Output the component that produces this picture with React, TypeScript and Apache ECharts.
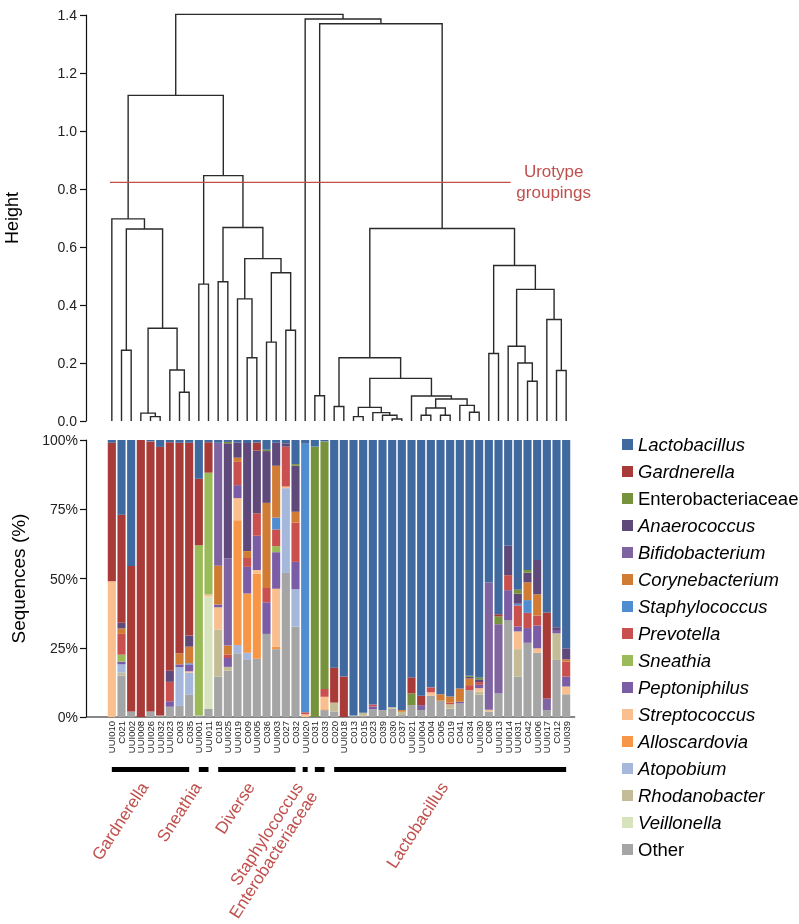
import React, { useEffect, useRef } from 'react';
import * as echarts from 'echarts';

// ---------------- DATA ----------------
const samples = ['UUI010','C021','UUI002','UUI008','UUI026','UUI032','UUI023','C003','C035','UUI001','UUI011','C018','UUI025','UUI019','C009','UUI005','C036','UUI003','C027','C032','UUI020','C031','C033','C020','UUI018','C013','C015','C023','C039','C030','C037','UUI021','UUI004','C004','C005','C019','C041','C034','UUI030','C008','UUI013','UUI014','UUI031','C042','UUI006','UUI017','C012','UUI039'];

const lactobacillus = [1,27,45.5,0,0.5,2.5,0.8,1,1,14, 0.8,1,0.7,0.9,1.1,0.9,3.5,1,1.2,8.7, 1.3,2.4,0.5,82.2,85.4,99.5,98.5,95.5,97.5,96.5, 97.5,85.7,92.3,89.3,91.8,92.6,89.7,85.1,85.7,51.4, 62.9,38.2,54.1,46.9,43.3,62.3,67.6,75.2];
const gardnerella = [50,39,52.5,100,97.5,97,82.5,76,69.6,24, 11,0,0,0,0,2.9,0,0,0,0, 0,0,0,12.6,14.6,0,0,0,0,0, 0,5.8,3.4,0,0,0,0,0,0,0, 0.8,0,0,0,0,31,0,0];
const enterobacteriaceae = [0,0,0,0,0,0,0,0,0,0, 0,0,0.5,0,0,0,0.5,0,0,0.6, 0,97.6,89.4,0,0,0,0,0,0,0, 0,4.2,0,0,0,0,0,0.4,0.7,0, 2.8,0,1.4,1,0,0,0,0];
const anaerococcus = [0,2,0,0,0,0,4,0,4,0, 0,0,41.5,5.5,39,22.6,18.7,8.3,1.2,16.6, 0,0,0,0,0,0,0,0,0,0, 0,0,0,0,0,0,0,0.6,1,0, 0,10.6,3.6,3.5,12.4,0,1,4];
const bifidobacterium = [0,0,0,0,0,0,0,0,0,0, 0,44.4,31.5,0,0,0,0,0,0,0, 0,0,0,0,0,0,0,0,0,0, 0,0,1.8,0,0,0,0,0,0,46, 25,0,0,0,0,4.2,0,0];
const corynebacterium = [0,2,0,0,0,0,0,4,6,0, 0,14,3.2,1.5,2.5,0,30.7,18.7,0,3.9, 0,0,0,0,0,0,0,0,0,0, 0.6,0,0,0,2.3,2.2,4.8,2.4,0,0, 0,0,0,6.4,7.7,0,0,0.8];
const staphylococcus = [0,0,0,0,0,0,0,0,0.5,0, 0,0,0,0,0,0,0,4.3,0,0, 97,0,0,0,0,0,0,0,0,0, 0,0,0,0,0,0,0,0,0,0, 0,0,0.6,4.6,0,0,0,0];
const prevotella = [0,7.5,0,0,0,0,7,0,0,0, 0,0,1.3,8.4,3.2,8.2,5.2,6,14.4,14.2, 0.7,0,2.8,0,0,0,0,0.7,0,0, 0,0,0,1.8,0,0.6,0,1.8,1,0, 0,5.4,7.6,5.5,3.6,0,0,5.4];
const sneathia = [0,2.5,0,0,0,0,0,0,0,61.5, 44,0,0,0,0,0,0,2.2,0,0, 0,0,0,0,0,0,0,0,0,0, 0,0,0,0,0,0,0,0,0,0, 0,0,0,0,0,0,0,0];
const peptoniphilus = [0,1,0,0,0,0,2,1,2.4,0, 0,1,3.2,4.7,9.6,12.3,11.4,13.2,0,9.9, 0,0,0,0,0,0,0,1,0,0, 0,0,0,0,0,0,0.6,0,1.2,0, 0,10.8,1.8,5.3,8.2,0,1.2,3.6];
const streptococcus = [49,0,0,0,0,0,0,0,0.5,0, 0.7,8,0,8,0,1.4,0,21,0.6,0, 1,0,4.5,0,0,0,0,0,0,0, 0,0,0,1.2,0,0,0,0,1.2,0.6, 0,0,6.4,0,1.6,0,0,2.8];
const alloscardovia = [0,0,0,0,0,0,0,0,0,0, 0,0,0,45,21.4,30.7,0,0.8,0,0, 0,0,0.3,0,0,0,0,0,0,0, 0,0,0,0,0,0,0,0,0,0, 0,0,0,0,0,0,0,0];
const atopobium = [0,3,0,0,0,0,0,14,8,0, 0,0,0,3,2.6,0,0,0,30.6,13.5, 0,0,0,0,0,0,0,0,0,0, 0,0,0,0,0,0,0,0,0,0, 0,0,0,0,0,0,0,0];
const rhodanobacter = [0,1,0,0,0,0,0,0,0,0, 0,17,1.4,0,0,0,0,0,0,0, 0,0,0,3.2,0,0,1,0,0,0.5, 1.2,0,0,0,0,1.6,0,0,1.2,0, 0,0,9.9,0,0,0,9.6,0];
const veillonella = [0,0,0,0,0,0,0,0,0,0, 40.5,0,0,0,0,0,0,0,0,0, 0,0,0,0,0,0,0,0,0,0, 0,0,0,0,0,0,0,0,0,0, 0,0,0,0,0,0,0,0];
const other = [0,15,2,0,2,0.5,3.7,4,8,0.5, 3,14.6,16.7,23,20.6,21,30,24.5,52,32.6, 0,0,2.5,2,0,0.5,0.5,2.8,2.5,3, 0.7,4.3,2.5,7.7,5.9,3,4.9,9.7,8,2, 8.5,35,14.6,26.8,23.2,2.5,20.6,8.2];

// taxa, legend order (top of legend first)
const taxa = [
  { name: 'Lactobacillus', values: lactobacillus, color: '#4069a0', italic: true },
  { name: 'Gardnerella', values: gardnerella, color: '#a83a38', italic: true },
  { name: 'Enterobacteriaceae', values: enterobacteriaceae, color: '#76923c', italic: false },
  { name: 'Anaerococcus', values: anaerococcus, color: '#5f497a', italic: true },
  { name: 'Bifidobacterium', values: bifidobacterium, color: '#8064a2', italic: true },
  { name: 'Corynebacterium', values: corynebacterium, color: '#d07c34', italic: true },
  { name: 'Staphylococcus', values: staphylococcus, color: '#4f8dd0', italic: true },
  { name: 'Prevotella', values: prevotella, color: '#c9504e', italic: true },
  { name: 'Sneathia', values: sneathia, color: '#9bbb59', italic: true },
  { name: 'Peptoniphilus', values: peptoniphilus, color: '#7b5ca6', italic: true },
  { name: 'Streptococcus', values: streptococcus, color: '#f9bf8f', italic: true },
  { name: 'Alloscardovia', values: alloscardovia, color: '#f79646', italic: true },
  { name: 'Atopobium', values: atopobium, color: '#a5b7db', italic: true },
  { name: 'Rhodanobacter', values: rhodanobacter, color: '#c4bc96', italic: true },
  { name: 'Veillonella', values: veillonella, color: '#d6e3bc', italic: true },
  { name: 'Other', values: other, color: '#a5a5a5', italic: false },
];

// dendrogram merges: [id, left child, right child, height]; numbers are leaf indices
const merges: [string, number | string, number | string, number][] = [
  ['a1', 1, 2, 0.244], ['a2', 4, 5, 0.015], ['a3', 3, 'a2', 0.027], ['a4', 7, 8, 0.099],
  ['a5', 6, 'a4', 0.176], ['a6', 'a3', 'a5', 0.320], ['a7', 'a1', 'a6', 0.662], ['a8', 0, 'a7', 0.697],
  ['b1', 9, 10, 0.472],
  ['c1', 11, 12, 0.480], ['c2', 14, 15, 0.218], ['c3', 13, 'c2', 0.421], ['c4', 16, 17, 0.272],
  ['c5', 18, 19, 0.313], ['c6', 'c4', 'c5', 0.511], ['c7', 'c3', 'c6', 0.560], ['c8', 'c1', 'c7', 0.667],
  ['c9', 'b1', 'c8', 0.846], ['d1', 'a8', 'c9', 1.123],
  ['e1', 21, 22, 0.087],
  ['l1', 23, 24, 0.05], ['l2', 25, 26, 0.015], ['l3', 29, 30, 0.007], ['l4', 28, 'l3', 0.02],
  ['l5', 27, 'l4', 0.029], ['l6', 'l2', 'l5', 0.047], ['l7', 32, 33, 0.02], ['l8', 34, 35, 0.02],
  ['l9', 'l7', 'l8', 0.045], ['l10', 37, 38, 0.03], ['l11', 36, 'l10', 0.054], ['l12', 'l9', 'l11', 0.076],
  ['l13', 31, 'l12', 0.086], ['l14', 'l6', 'l13', 0.147], ['l15', 'l1', 'l14', 0.218],
  ['l16', 39, 40, 0.233], ['l17', 43, 44, 0.137], ['l18', 42, 'l17', 0.2], ['l19', 41, 'l18', 0.258],
  ['l20', 46, 47, 0.174], ['l21', 45, 'l20', 0.35], ['l22', 'l19', 'l21', 0.454], ['l23', 'l16', 'l22', 0.536],
  ['l24', 'l15', 'l23', 0.664],
  ['f1', 'e1', 'l24', 1.370], ['f2', 20, 'f1', 1.386], ['root', 'd1', 'f2', 1.402],
];

const cutHeight = 0.823;
const cutRange = [-0.19, 41.26];
const heightTicks = { min: 0, max: 1.4, interval: 0.2 };
const pctTicks = { min: 0, max: 100, interval: 25 };

const groups = [
  { name: 'Gardnerella', from: 0, to: 8 },
  { name: 'Sneathia', from: 9, to: 10 },
  { name: 'Diverse', from: 11, to: 19 },
  { name: 'Staphylococcus', from: 20, to: 20 },
  { name: 'Enterobacteriaceae', from: 21, to: 22 },
  { name: 'Lactobacillus', from: 23, to: 47 },
];

// ---------------- STYLE ----------------
const FONT = '"Liberation Sans", Arial, Helvetica, sans-serif';
const RED = '#c0504d';
const W = 799;
const H = 924;
const GRID_LEFT = 107;
const GRID_RIGHT = 228;
const AXIS_OFFSET = 21;
const BAND = (W - GRID_LEFT - GRID_RIGHT) / samples.length;

function buildSegments() {
  const pos: Record<string, { x: number; h: number }> = {};
  const get = (r: number | string) => (typeof r === 'number' ? { x: r, h: 0 } : pos[r]);
  const segs: number[][] = [];
  for (const [id, a, b, h] of merges) {
    const A = get(a);
    const B = get(b);
    segs.push([A.x, A.h, B.x, B.h, h]);
    pos[id] = { x: (A.x + B.x) / 2, h };
  }
  return segs;
}

export default function App() {
  const ref = useRef<HTMLDivElement>(null);
  useEffect(() => {
    const chart = echarts.init(ref.current!, null, { renderer: 'svg' });
    const axisLineStyle = { color: '#111', width: 1.2 };
    const barSeries = taxa.slice().reverse().map((t) => ({
      name: t.name,
      type: 'bar',
      stack: 'total',
      xAxisIndex: 1,
      yAxisIndex: 1,
      barWidth: '84%',
      itemStyle: { color: t.color },
      data: t.values,
    }));
    const option: any = {
      animation: false,
      textStyle: { fontFamily: FONT },
      grid: [
        { left: GRID_LEFT - AXIS_OFFSET, right: GRID_RIGHT, top: 15, height: 406, containLabel: false, outerBoundsMode: 'none' },
        { left: GRID_LEFT, right: GRID_RIGHT, top: 440, height: 277, containLabel: false, outerBoundsMode: 'none' },
      ],
      xAxis: [
        { type: 'value', gridIndex: 0, min: -0.5 - AXIS_OFFSET / BAND, max: samples.length - 0.5, show: false },
        {
          type: 'category', gridIndex: 1, data: samples,
          axisLine: { show: false }, axisTick: { show: false },
          axisLabel: { interval: 0, rotate: 90, fontSize: 9.5, margin: 4, color: '#222', fontFamily: FONT },
        },
      ],
      yAxis: [
        {
          type: 'value', gridIndex: 0, ...heightTicks,
          name: 'Height', nameLocation: 'middle', nameGap: 65,
          nameTextStyle: { fontSize: 18, color: '#000', fontFamily: FONT },
          axisLine: { show: true, onZero: false, lineStyle: axisLineStyle },
          axisTick: { show: true, length: 6, lineStyle: axisLineStyle },
          axisLabel: { fontSize: 14, color: '#222', margin: 9, formatter: (v: number) => v.toFixed(1) },
          splitLine: { show: false },
        },
        {
          type: 'value', gridIndex: 1, ...pctTicks, offset: AXIS_OFFSET,
          name: 'Sequences (%)', nameLocation: 'middle', nameGap: 58,
          nameTextStyle: { fontSize: 19, color: '#000', fontFamily: FONT },
          axisLine: { show: true, onZero: false, lineStyle: axisLineStyle },
          axisTick: { show: true, length: 6, lineStyle: axisLineStyle },
          axisLabel: { fontSize: 14, color: '#222', margin: 8, formatter: '{value}%' },
          splitLine: { show: false },
        },
      ],
      legend: {
        orient: 'vertical', left: 617, top: 430, itemWidth: 11, itemHeight: 11, itemGap: 8,
        icon: 'rect', selectedMode: false,
        textStyle: { fontSize: 18.5, color: '#000', fontFamily: FONT },
        data: taxa.map((t) => ({ name: t.name, textStyle: { fontStyle: t.italic ? 'italic' : 'normal' } })),
      },
      series: [
        {
          type: 'custom', xAxisIndex: 0, yAxisIndex: 0, silent: true,
          encode: { x: [0, 2], y: [1, 3, 4] },
          data: buildSegments(),
          renderItem: (_p: any, api: any) => {
            const p1 = api.coord([api.value(0), api.value(1)]);
            const p2 = api.coord([api.value(0), api.value(4)]);
            const p3 = api.coord([api.value(2), api.value(4)]);
            const p4 = api.coord([api.value(2), api.value(3)]);
            return {
              type: 'polyline',
              shape: { points: [p1, p2, p3, p4] },
              style: { stroke: '#2a2a2a', lineWidth: 1.4, fill: null },
            };
          },
        },
        {
          type: 'line', xAxisIndex: 0, yAxisIndex: 0, symbol: 'none', silent: true, z: 5,
          lineStyle: { color: RED, width: 1.2 },
          data: [[cutRange[0], cutHeight], [cutRange[1], cutHeight]],
        },
        ...barSeries,
      ],
    };
    chart.setOption(option);

    // annotations positioned from the axes
    const px = (i: number) => (chart.convertToPixel({ gridIndex: 1 }, [i, 0]) as number[])[0];
    const y0 = (chart.convertToPixel({ gridIndex: 1 }, [0, 0]) as number[])[1];
    const cutEnd = chart.convertToPixel({ gridIndex: 0 }, [cutRange[1], cutHeight]) as number[];
    const elements: any[] = [];
    elements.push({
      type: 'line', silent: true,
      shape: { x1: GRID_LEFT - AXIS_OFFSET, y1: y0, x2: px(samples.length - 1) + 9, y2: y0 },
      style: { stroke: '#111', lineWidth: 1.2 },
    });
    groups.forEach((g) => {
      let x1 = px(g.from);
      let x2 = px(g.to);
      if (x2 - x1 < 5) { const m = (x1 + x2) / 2; x1 = m - 2.5; x2 = m + 2.5; }
      elements.push({
        type: 'rect', silent: true,
        shape: { x: x1, y: y0 + 50, width: x2 - x1, height: 5 },
        style: { fill: '#000' },
      });
      const mid = (px(g.from) + px(g.to)) / 2;
      elements.push({
        type: 'text', silent: true,
        x: mid - 6, y: y0 + 67 + (g.name === 'Enterobacteriaceae' ? 9 : 0),
        rotation: (57 * Math.PI) / 180,
        style: {
          text: g.name, fill: RED, fontSize: 17, fontFamily: FONT,
          align: 'right', verticalAlign: 'middle',
        },
      });
    });
    elements.push({
      type: 'text', silent: true,
      x: cutEnd[0] + 43, y: cutEnd[1],
      style: {
        text: 'Urotype\ngroupings', fill: RED, fontSize: 17, lineHeight: 21, fontFamily: FONT,
        align: 'center', verticalAlign: 'middle',
      },
    });
    chart.setOption({ graphic: elements });

    return () => chart.dispose();
  }, []);
  return <div ref={ref} style={{ position: 'fixed', left: 0, top: 0, width: W, height: H }} />;
}
